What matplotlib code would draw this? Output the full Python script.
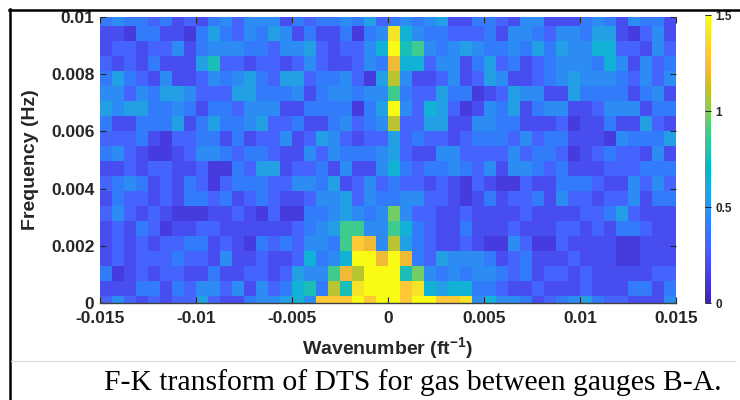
import numpy as np
import matplotlib
matplotlib.use("Agg")
import matplotlib.pyplot as plt
from matplotlib.colors import ListedColormap
from matplotlib.lines import Line2D


# wavenumber bins (ft^-1) and frequency bins (Hz)
k_min = -0.015
k_step = 0.000625
n_k = 48
f_step = 0.000524
n_f = 20

# amplitude level of each code used in the rows below
level_values = {
    "1": 0.13, "2": 0.20, "3": 0.29, "4": 0.38, "5": 0.46, "6": 0.55,
    "7": 0.65, "8": 0.76, "9": 0.88, "A": 0.98, "B": 1.10, "C": 1.20,
    "D": 1.30, "E": 1.40, "F": 1.50,
}

# F-K amplitude codes, one per cell; first string is f = 0,
# last string is the highest frequency bin
amplitude_rows = [
    "353232336322455675DDDFDFF" + "DFFDDE57554234564332225",
    "2224424355352534784B8EFFF" + "DE767744322322232224424",
    "41232332242233236559CBFFF" + "8A545455434233232222233",
    "232333433252232237457FFCF" + "C4365554234222322211222",
    "232323344232143435549DC5B" + "64322321153113222211222",
    "2324312233222222345699559" + "74322422232223323244322",
    "353232111223213114456545A" + "53322322223222233463222",
    "2433232443423432235563544" + "55332124233425332335244",
    "3454232431344433554623534" + "33232132113224443225353",
    "2232332231143662334252257" + "43445435255434222333444",
    "4532112355434432253544456" + "32255333353443123433252",
    "3334213344242335236532336" + "34332344435344222154446",
    "422444624644563342245345B" + "33662255442223122422632",
    "656644542443555224444146F" + "53763125462455223555244",
    "5535466533366444524554559" + "43364412365522644442452",
    "464325223545643663445316B" + "52235236522345655543535",
    "323242226833233235322354C" + "77355246342345554752534",
    "233233524555443556323357F" + "89545654454646557733253",
    "221442214643546524224145E" + "75443334255435546621352",
    "4544342324535552434454634" + "54562244325522245425442",
]

k_ticks = [-0.015, -0.01, -0.005, 0, 0.005, 0.01, 0.015]
k_tick_labels = ["-0.015", "-0.01", "-0.005", "0", "0.005", "0.01", "0.015"]
f_ticks = [0, 0.002, 0.004, 0.006, 0.008, 0.01]
f_tick_labels = ["0", "0.002", "0.004", "0.006", "0.008", "0.01"]
cbar_ticks = [0, 0.5, 1, 1.5]
cbar_tick_labels = ["0", "0.5", "1", "1.5"]

caption = "F-K transform of DTS for gas between gauges B-A."

# MATLAB parula, 64 steps
parula_rgb = [
    (0.2422, 0.1504, 0.6603), (0.2504, 0.1650, 0.7076), (0.2578, 0.1818, 0.7511),
    (0.2647, 0.1978, 0.7952), (0.2706, 0.2147, 0.8364), (0.2751, 0.2342, 0.8710),
    (0.2783, 0.2559, 0.8991), (0.2803, 0.2782, 0.9221), (0.2813, 0.3006, 0.9414),
    (0.2810, 0.3228, 0.9579), (0.2795, 0.3447, 0.9717), (0.2760, 0.3667, 0.9829),
    (0.2699, 0.3892, 0.9906), (0.2602, 0.4123, 0.9952), (0.2440, 0.4358, 0.9988),
    (0.2206, 0.4603, 0.9973), (0.1963, 0.4847, 0.9892), (0.1834, 0.5074, 0.9798),
    (0.1786, 0.5289, 0.9682), (0.1764, 0.5499, 0.9520), (0.1687, 0.5703, 0.9359),
    (0.1540, 0.5902, 0.9218), (0.1460, 0.6091, 0.9079), (0.1380, 0.6276, 0.8973),
    (0.1248, 0.6459, 0.8883), (0.1113, 0.6635, 0.8763), (0.0952, 0.6798, 0.8598),
    (0.0689, 0.6948, 0.8394), (0.0297, 0.7082, 0.8163), (0.0036, 0.7203, 0.7917),
    (0.0067, 0.7312, 0.7660), (0.0433, 0.7411, 0.7394), (0.0964, 0.7500, 0.7120),
    (0.1408, 0.7584, 0.6842), (0.1717, 0.7670, 0.6554), (0.1938, 0.7758, 0.6251),
    (0.2161, 0.7843, 0.5923), (0.2470, 0.7918, 0.5567), (0.2906, 0.7973, 0.5188),
    (0.3406, 0.8008, 0.4789), (0.3909, 0.8029, 0.4354), (0.4456, 0.8024, 0.3909),
    (0.5044, 0.7993, 0.3480), (0.5616, 0.7942, 0.3045), (0.6174, 0.7876, 0.2612),
    (0.6720, 0.7793, 0.2227), (0.7242, 0.7698, 0.1910), (0.7738, 0.7598, 0.1646),
    (0.8203, 0.7498, 0.1535), (0.8634, 0.7406, 0.1596), (0.9035, 0.7330, 0.1774),
    (0.9393, 0.7288, 0.2100), (0.9728, 0.7298, 0.2394), (0.9956, 0.7434, 0.2371),
    (0.9970, 0.7659, 0.2199), (0.9952, 0.7893, 0.2028), (0.9892, 0.8136, 0.1885),
    (0.9786, 0.8386, 0.1766), (0.9676, 0.8639, 0.1643), (0.9610, 0.8890, 0.1537),
    (0.9597, 0.9135, 0.1423), (0.9628, 0.9373, 0.1265), (0.9691, 0.9606, 0.1064),
    (0.9769, 0.9839, 0.0805),
]
parula = ListedColormap(parula_rgb, name="parula")

amplitude = np.array([[level_values[c] for c in row] for row in amplitude_rows])
k_edges = k_min + k_step * np.arange(n_k + 1)
f_edges = (np.arange(n_f + 1) - 0.5) * f_step

plt.rcParams["font.family"] = ["Liberation Sans", "DejaVu Sans"]
plt.rcParams["font.weight"] = "bold"
plt.rcParams["mathtext.fontset"] = "custom"
plt.rcParams["mathtext.rm"] = "Liberation Sans:bold"
plt.rcParams["mathtext.bf"] = "Liberation Sans:bold"

W, H = 740, 400
fig = plt.figure(figsize=(W / 100, H / 100), dpi=100)
ax = fig.add_axes([100 / W, 1 - 303 / H, 576 / W, 286 / H])

mesh = ax.pcolormesh(k_edges, f_edges, amplitude, cmap=parula,
                     vmin=0, vmax=1.5, shading="flat")
ax.set_xlim(k_min, k_min + n_k * k_step)
ax.set_ylim(0, 0.01)

ax.set_xticks(k_ticks)
ax.set_xticklabels(k_tick_labels)
ax.set_yticks(f_ticks)
ax.set_yticklabels(f_tick_labels)
ax.tick_params(direction="in", length=4, width=0.8, color="#262626",
               top=True, right=True, labelsize=12.5, labelcolor="#262626")
ax.tick_params(axis="x", pad=6)
ax.tick_params(axis="y", pad=4)
for side in ["top", "left", "right"]:
    ax.spines[side].set_visible(False)
ax.spines["bottom"].set_color("#404040")
ax.spines["bottom"].set_linewidth(1.0)

ax.set_xlabel("Wavenumber (ft$^{\\mathbf{-1}}$)", fontsize=14, fontweight="bold",
              color="#262626")
ax.set_ylabel("Frequency (Hz)", fontsize=14, fontweight="bold", color="#262626")
ax.xaxis.set_label_coords(0.5, -0.112)
ax.yaxis.set_label_coords(-0.106, 0.5)

cax = fig.add_axes([705 / W, 1 - 303 / H, 6 / W, 288 / H])
cb = fig.colorbar(mesh, cax=cax, ticks=cbar_ticks)
cb.ax.set_yticklabels(cbar_tick_labels)
cb.outline.set_visible(False)
cax.tick_params(direction="in", length=2, width=0.6, left=True, right=True,
                labelsize=8.5, pad=3, labelcolor="#262626")

# frame and caption rule
fig.add_artist(Line2D([9.5 / W, 9.5 / W], [0, 1 - 8.5 / H], color="black",
                      lw=1.8, transform=fig.transFigure))
fig.add_artist(Line2D([8.5 / W, 1], [1 - 9.5 / H, 1 - 9.5 / H], color="black",
                      lw=1.8, transform=fig.transFigure))
fig.add_artist(Line2D([11 / W, 735 / W], [1 - 361 / H, 1 - 361 / H],
                      color="#d9d9d9", lw=0.8, transform=fig.transFigure))

fig.text(413 / W, 1 - 383 / H, caption, ha="center", va="center",
         fontsize=21.3, family="Liberation Serif", fontweight="normal", color="black")

fig.savefig("out.png", dpi=100)
